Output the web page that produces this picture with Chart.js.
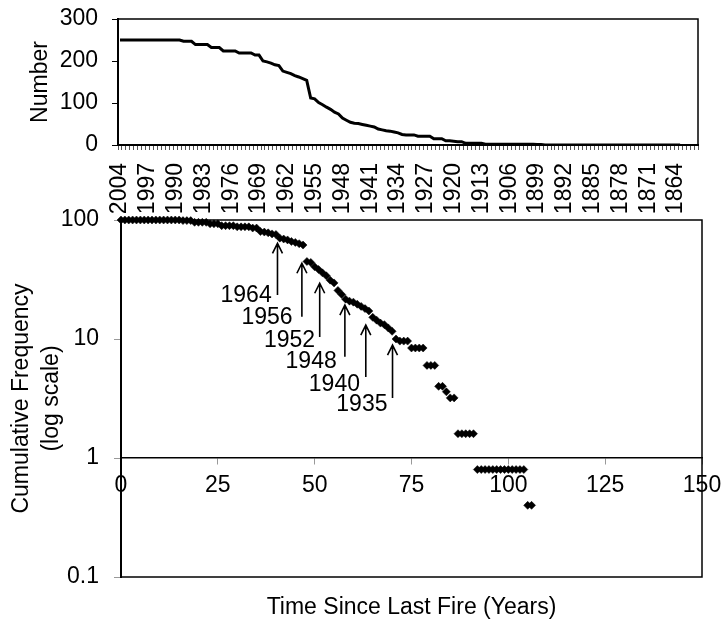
<!DOCTYPE html>
<html>
<head>
<meta charset="utf-8">
<script src="https://cdn.jsdelivr.net/npm/chart.js@4.4.1/dist/chart.umd.min.js"></script>
<style>
html,body{margin:0;padding:0;background:#fff;}
#wrap{position:relative;width:723px;height:623px;overflow:hidden;background:#fff;}
#c1{position:absolute;left:0;top:0;}
#c2{position:absolute;left:0;top:200px;}
</style>
</head>
<body>
<div id="wrap">
<canvas id="c1" width="723" height="225"></canvas>
<canvas id="c2" width="723" height="423"></canvas>
</div>
<script>
// ---------- DATA ----------
// Top panel: calendar years (categories) and number of sites
const calendarYears = [2004,2003,2002,2001,2000,1999,1998,1997,1996,1995,1994,1993,1992,1991,1990,1989,1988,1987,1986,1985,1984,1983,1982,1981,1980,1979,1978,1977,1976,1975,1974,1973,1972,1971,1970,1969,1968,1967,1966,1965,1964,1963,1962,1961,1960,1959,1958,1957,1956,1955,1954,1953,1952,1951,1950,1949,1948,1947,1946,1945,1944,1943,1942,1941,1940,1939,1938,1937,1936,1935,1934,1933,1932,1931,1930,1929,1928,1927,1926,1925,1924,1923,1922,1921,1920,1919,1918,1917,1916,1915,1914,1913,1912,1911,1910,1909,1908,1907,1906,1905,1904,1903,1902,1901,1900,1899,1898,1897,1896,1895,1894,1893,1892,1891,1890,1889,1888,1887,1886,1885,1884,1883,1882,1881,1880,1879,1878,1877,1876,1875,1874,1873,1872,1871,1870,1869,1868,1867,1866,1865,1864,1863,1862,1861,1860,1859];
const numberOfSites = [250,250,250,250,250,250,250,250,250,250,250,250,250,250,250,250,247,247,247,239,239,239,239,232,232,232,224,224,224,224,219,219,219,219,214,214,200,198,195,191,189,176,173,170,165,162,158,154,112,110,101,96,90,85,78,74,64,59,54,52,51,49,47,45,43,38,36,34,33,31,29,25,24,24,24,21,21,21,21,15,15,15,10,10,9,8,8,4,4,4,4,4,2,2,2,2,2,2,2,2,2,2,2,2,2,1,1,0,0,0,0,0,0,0,0,0,0,0,0,0,0,0,0,0,0,0,0,0,0,0,0,0,0,0,0,0,0,0,0,0,0,0];
const topTickValues = [0,100,200,300];

// Bottom panel: time since last fire (years) and cumulative frequency (%)
const yearsSinceFire = [0,1,2,3,4,5,6,7,8,9,10,11,12,13,14,15,16,17,18,19,20,21,22,23,24,25,26,27,28,29,30,31,32,33,34,35,36,37,38,39,40,41,42,43,44,45,46,47,48,49,50,51,52,53,54,55,56,57,58,59,60,61,62,63,64,65,66,67,68,69,70,71,72,73,74,75,76,77,78,79,80,81,82,83,84,85,86,87,88,89,90,91,92,93,94,95,96,97,98,99,100,101,102,103,104,105,106];
const cumulativeFrequency = [100,100,100,100,100,100,100,100,100,100,100,100,100,100,100,100,98.8,98.8,98.8,95.6,95.6,95.6,95.6,92.8,92.8,92.8,89.6,89.6,89.6,89.6,87.6,87.6,87.6,87.6,85.6,85.6,80,79.2,78,76.4,75.6,70.4,69.2,68,66,64.8,63.2,61.6,44.8,44,40.4,38.4,36,34,31.2,29.6,25.6,23.6,21.6,20.8,20.4,19.6,18.8,18,17.2,15.2,14.4,13.6,13.2,12.4,11.6,10,9.6,9.6,9.6,8.4,8.4,8.4,8.4,6,6,6,4,4,3.6,3.2,3.2,1.6,1.6,1.6,1.6,1.6,0.8,0.8,0.8,0.8,0.8,0.8,0.8,0.8,0.8,0.8,0.8,0.8,0.8,0.4,0.4];
const logTickValues = [0.1,1,10,100];
const xTickStep = 25;

// Arrow annotations (fire years)
const annoLabels = ['1964','1956','1952','1948','1940','1935'];
const annoArrowX = [40.4,46.7,51.3,57.8,63.2,70.1];
const annoArrowTip = [63.7,43.3,29.4,19.3,13.1,8.9];
const annoArrowBase = [23.4,15.4,10.4,7.1,4.8,3.2];
const annoTextRightX = [38.9,44.3,50.1,55.7,61.7,68.8];
const annoTextY = [23.2,15.0,9.6,6.5,4.1,2.8];

// ---------- STYLE ----------
const FONT = '"Liberation Sans", Arial, Helvetica, sans-serif';
const FS = 23;
Chart.defaults.font.family = FONT;
Chart.defaults.color = '#000';

const boxPlugin = {
  id: 'boxPlugin',
  afterDraw(chart) {
    const a = chart.chartArea, ctx = chart.ctx;
    ctx.save();
    ctx.strokeStyle = '#000';
    ctx.lineWidth = 1.5;
    ctx.strokeRect(a.left, a.top, a.right - a.left, a.bottom - a.top);
    ctx.restore();
  }
};
function noPad(s) { s.paddingTop = 0; s.paddingBottom = 0; s.paddingLeft = 0; s.paddingRight = 0; }

// ---------- TOP CHART ----------
new Chart(document.getElementById('c1'), {
  type: 'line',
  data: {
    labels: calendarYears.map(String),
    datasets: [{
      data: numberOfSites,
      borderColor: '#000',
      borderWidth: 3,
      pointRadius: 0,
      tension: 0,
      fill: false
    }]
  },
  plugins: [boxPlugin],
  options: {
    responsive: false,
    animation: false,
    layout: { padding: { top: 19, right: 25, bottom: 0, left: 0 } },
    plugins: { legend: { display: false }, tooltip: { enabled: false } },
    scales: {
      x: {
        type: 'category',
        offset: true,
        afterFit(s) { s.height = 80; noPad(s); },
        grid: { display: true, drawOnChartArea: false, offset: true, tickLength: 5, color: '#555', lineWidth: 1 },
        border: { display: true, color: '#000', width: 2 },
        ticks: {
          autoSkip: false, minRotation: 90, maxRotation: 90, padding: 13,
          font: { size: FS }, color: '#000',
          callback(v, i) { return i % 7 === 0 ? this.getLabelForValue(v) : ''; }
        }
      },
      y: {
        min: 0, max: 300,
        afterFit(s) { s.width = 118; noPad(s); },
        afterBuildTicks(s) { s.ticks = topTickValues.map(v => ({ value: v })); },
        grid: { display: true, drawOnChartArea: false, tickLength: 6, color: '#000' },
        border: { display: true, color: '#000', width: 2 },
        ticks: { font: { size: FS }, color: '#000', padding: 14 },
        title: { display: true, text: 'Number', font: { size: FS }, color: '#000', padding: { top: 27, bottom: 0 } }
      }
    }
  }
});

// ---------- BOTTOM CHART ----------
const arrowPlugin = {
  id: 'arrowPlugin',
  afterDatasetsDraw(chart) {
    const xs = chart.scales.x, ys = chart.scales.y, ctx = chart.ctx;
    ctx.save();
    ctx.strokeStyle = '#000';
    ctx.fillStyle = '#000';
    ctx.lineWidth = 1.6;
    ctx.font = FS + 'px ' + FONT;
    ctx.textAlign = 'right';
    ctx.textBaseline = 'middle';
    for (let i = 0; i < annoLabels.length; i++) {
      const px = xs.getPixelForValue(annoArrowX[i]);
      const yt = ys.getPixelForValue(annoArrowTip[i]);
      const yb = ys.getPixelForValue(annoArrowBase[i]);
      ctx.beginPath();
      ctx.moveTo(px, yb); ctx.lineTo(px, yt);
      ctx.moveTo(px - 5, yt + 10); ctx.lineTo(px, yt); ctx.lineTo(px + 5, yt + 10);
      ctx.stroke();
      ctx.fillText(annoLabels[i], xs.getPixelForValue(annoTextRightX[i]), ys.getPixelForValue(annoTextY[i]));
    }
    ctx.restore();
  }
};

new Chart(document.getElementById('c2'), {
  type: 'scatter',
  data: {
    datasets: [{
      data: yearsSinceFire.map((t, i) => ({ x: t, y: cumulativeFrequency[i] })),
      pointStyle: 'rectRot',
      pointRadius: 4,
      pointBorderWidth: 0.5,
      backgroundColor: '#000',
      borderColor: '#000',
      clip: false
    }]
  },
  plugins: [boxPlugin, arrowPlugin],
  options: {
    responsive: false,
    animation: false,
    layout: { padding: { top: 20, right: 21, bottom: 0, left: 0 } },
    plugins: { legend: { display: false }, tooltip: { enabled: false } },
    scales: {
      x: {
        type: 'linear',
        min: 0, max: 150,
        position: { y: 1 },
        afterFit(s) { noPad(s); },
        ticks: { stepSize: xTickStep, font: { size: FS }, color: '#000', padding: 8 },
        grid: { display: true, drawOnChartArea: false, tickLength: 6, color: '#999' },
        border: { display: true, color: '#000', width: 1.5 }
      },
      x2: {
        type: 'linear',
        position: 'bottom',
        min: 0, max: 1,
        afterFit(s) { s.height = 46; noPad(s); },
        grid: { display: false },
        border: { display: false },
        ticks: { display: false },
        title: { display: true, text: 'Time Since Last Fire (Years)', font: { size: FS }, color: '#000', padding: { top: 0, bottom: 2 } }
      },
      y: {
        type: 'logarithmic',
        min: 0.1, max: 100,
        afterFit(s) { s.width = 121; noPad(s); },
        afterBuildTicks(s) { s.ticks = logTickValues.map(v => ({ value: v })); },
        grid: { display: true, drawOnChartArea: false, tickLength: 7, color: '#999' },
        border: { display: true, color: '#000', width: 2 },
        ticks: { font: { size: FS }, color: '#000', padding: 15, callback: v => String(v) },
        title: { display: true, text: ['Cumulative Frequency', '(log scale)'], font: { size: FS, lineHeight: 1.3 }, color: '#000', padding: { top: 7, bottom: 0 } }
      }
    }
  }
});
</script>
</body>
</html>
